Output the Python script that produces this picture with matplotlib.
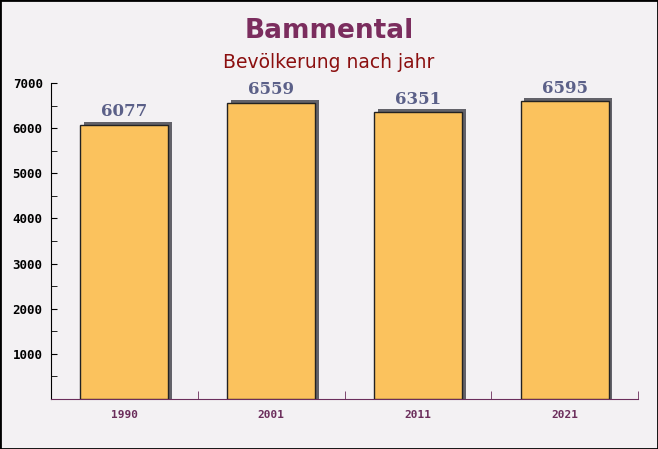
import matplotlib
matplotlib.use("Agg")
import matplotlib.pyplot as plt
from matplotlib.ticker import MultipleLocator, FixedLocator
import numpy as np

years = ["1990", "2001", "2011", "2021"]
population = [6077, 6559, 6351, 6595]

fig = plt.figure(figsize=(6.58, 4.49), dpi=100, facecolor="#f3f1f3")
ax = fig.add_axes([51/658, 1-399/449, (638-51)/658, (399-83)/449])
ax.set_facecolor("none")

x = np.arange(len(years))
w = 0.6
# shadow
ax.bar(x + 0.026, [v + 70 for v in population], width=w, color="#626269", zorder=2)
ax.bar(x, population, width=w, color="#fbc25d", edgecolor="#222222", linewidth=1, zorder=3)

for xi, v in zip(x, population):
    ax.text(xi, v + 100, str(v), ha="center", va="bottom", fontsize=12,
            fontweight="bold", family="DejaVu Serif", color="#5b6088", zorder=4)

ax.set_xlim(-0.5, len(years) - 0.5)
ax.set_ylim(0, 7000)
ax.set_xticks(x)
ax.set_xticklabels(years)
ax.xaxis.set_minor_locator(FixedLocator([0.5, 1.5, 2.5, 3.5]))
ax.tick_params(axis="x", which="major", length=0, pad=8, labelsize=8, labelcolor="#6b2d5b")
ax.tick_params(axis="x", which="minor", length=6, direction="in", color="#6b2d5b")
for lab in ax.get_xticklabels():
    lab.set_fontfamily("DejaVu Sans Mono")
    lab.set_fontweight("bold")

ax.set_yticks(range(1000, 8000, 1000))
ax.yaxis.set_minor_locator(MultipleLocator(500))
ax.tick_params(axis="y", which="both", direction="in", length=4, color="black", labelsize=9, pad=6)
for lab in ax.get_yticklabels():
    lab.set_fontfamily("DejaVu Sans Mono")
    lab.set_fontweight("bold")

for s in ["top", "right"]:
    ax.spines[s].set_visible(False)
ax.spines["left"].set_color("black")
ax.spines["bottom"].set_color("#6b2d5b")

fig.text(0.5, 1-31/449, "Bammental", ha="center", va="center", fontsize=19,
         fontweight="bold", color="#7b2d5e")
fig.text(0.5, 1-62/449, "Bevölkerung nach jahr", ha="center", va="center", fontsize=13.5,
         color="#8b0f0f")

border = plt.Rectangle((0, 0), 1, 1, transform=fig.transFigure, fill=False,
                       edgecolor="black", linewidth=2)
fig.patches.append(border)

fig.savefig("out.png", dpi=100, facecolor=fig.get_facecolor())
